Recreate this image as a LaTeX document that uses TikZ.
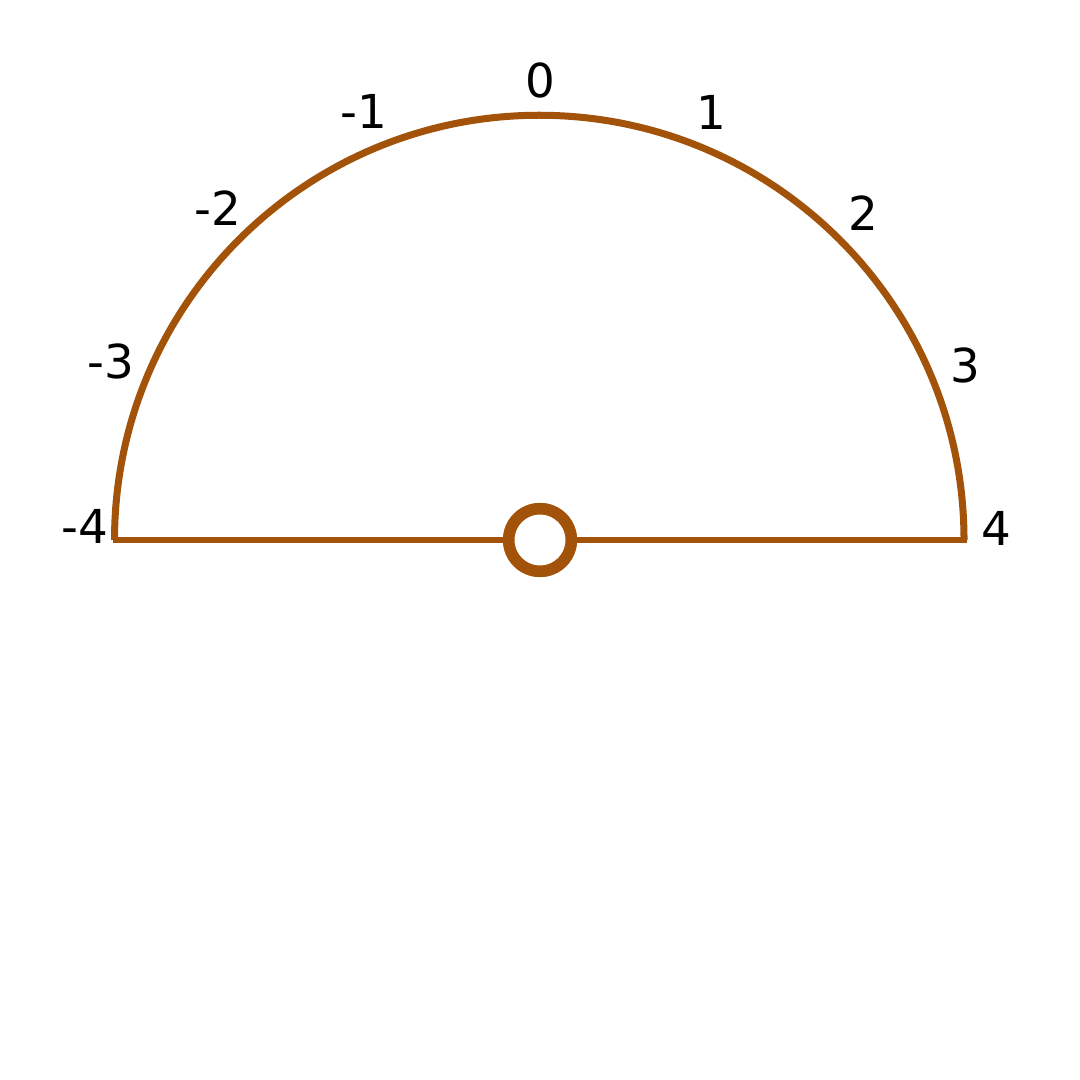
\documentclass[tikz,border=0pt]{standalone}
\usepackage{fontspec}
\setmainfont{DejaVu Sans}
\definecolor{arcbrown}{RGB}{162,82,9}
\begin{document}
\begin{tikzpicture}[x=0.01cm,y=-0.01cm,
  lbl/.style={font=\fontsize{13.3}{16}\selectfont, inner sep=0pt, text=black},
  hub/.style={circle, draw=arcbrown, line width=0.115cm, fill=white, minimum size=0.625cm, inner sep=0pt}]
\useasboundingbox (0,0) rectangle (1080,1080);
\coordinate (L) at (115,540);
\coordinate (R) at (964,540);
\node[hub] (C) at (540,540) {};
\draw[arcbrown, line width=0.07cm] (R) arc[start angle=0, end angle=180, radius=4.245cm];
\draw[arcbrown, line width=0.05cm] (L) -- (C) -- (R);
\draw[arcbrown, line width=0.05cm, line cap=rect] (L) -- ++(0,-4);
\draw[arcbrown, line width=0.05cm, line cap=rect] (R) -- ++(0,-4);
\node[hub] at (540,540) {};
\node[lbl] (n0) at (540,80) {0};
\node[lbl] (p1) at (711,112) {1};
\node[lbl] (p2) at (863,213) {2};
\node[lbl] (p3) at (965,365) {3};
\node[lbl] (p4) at (996,528) {4};
\node[lbl] (m1) at (364,111) {-1};
\node[lbl] (m2) at (218,208) {-2};
\node[lbl] (m3) at (111,361) {-3};
\node[lbl] (m4) at (85,526) {-4};
\end{tikzpicture}
\end{document}
